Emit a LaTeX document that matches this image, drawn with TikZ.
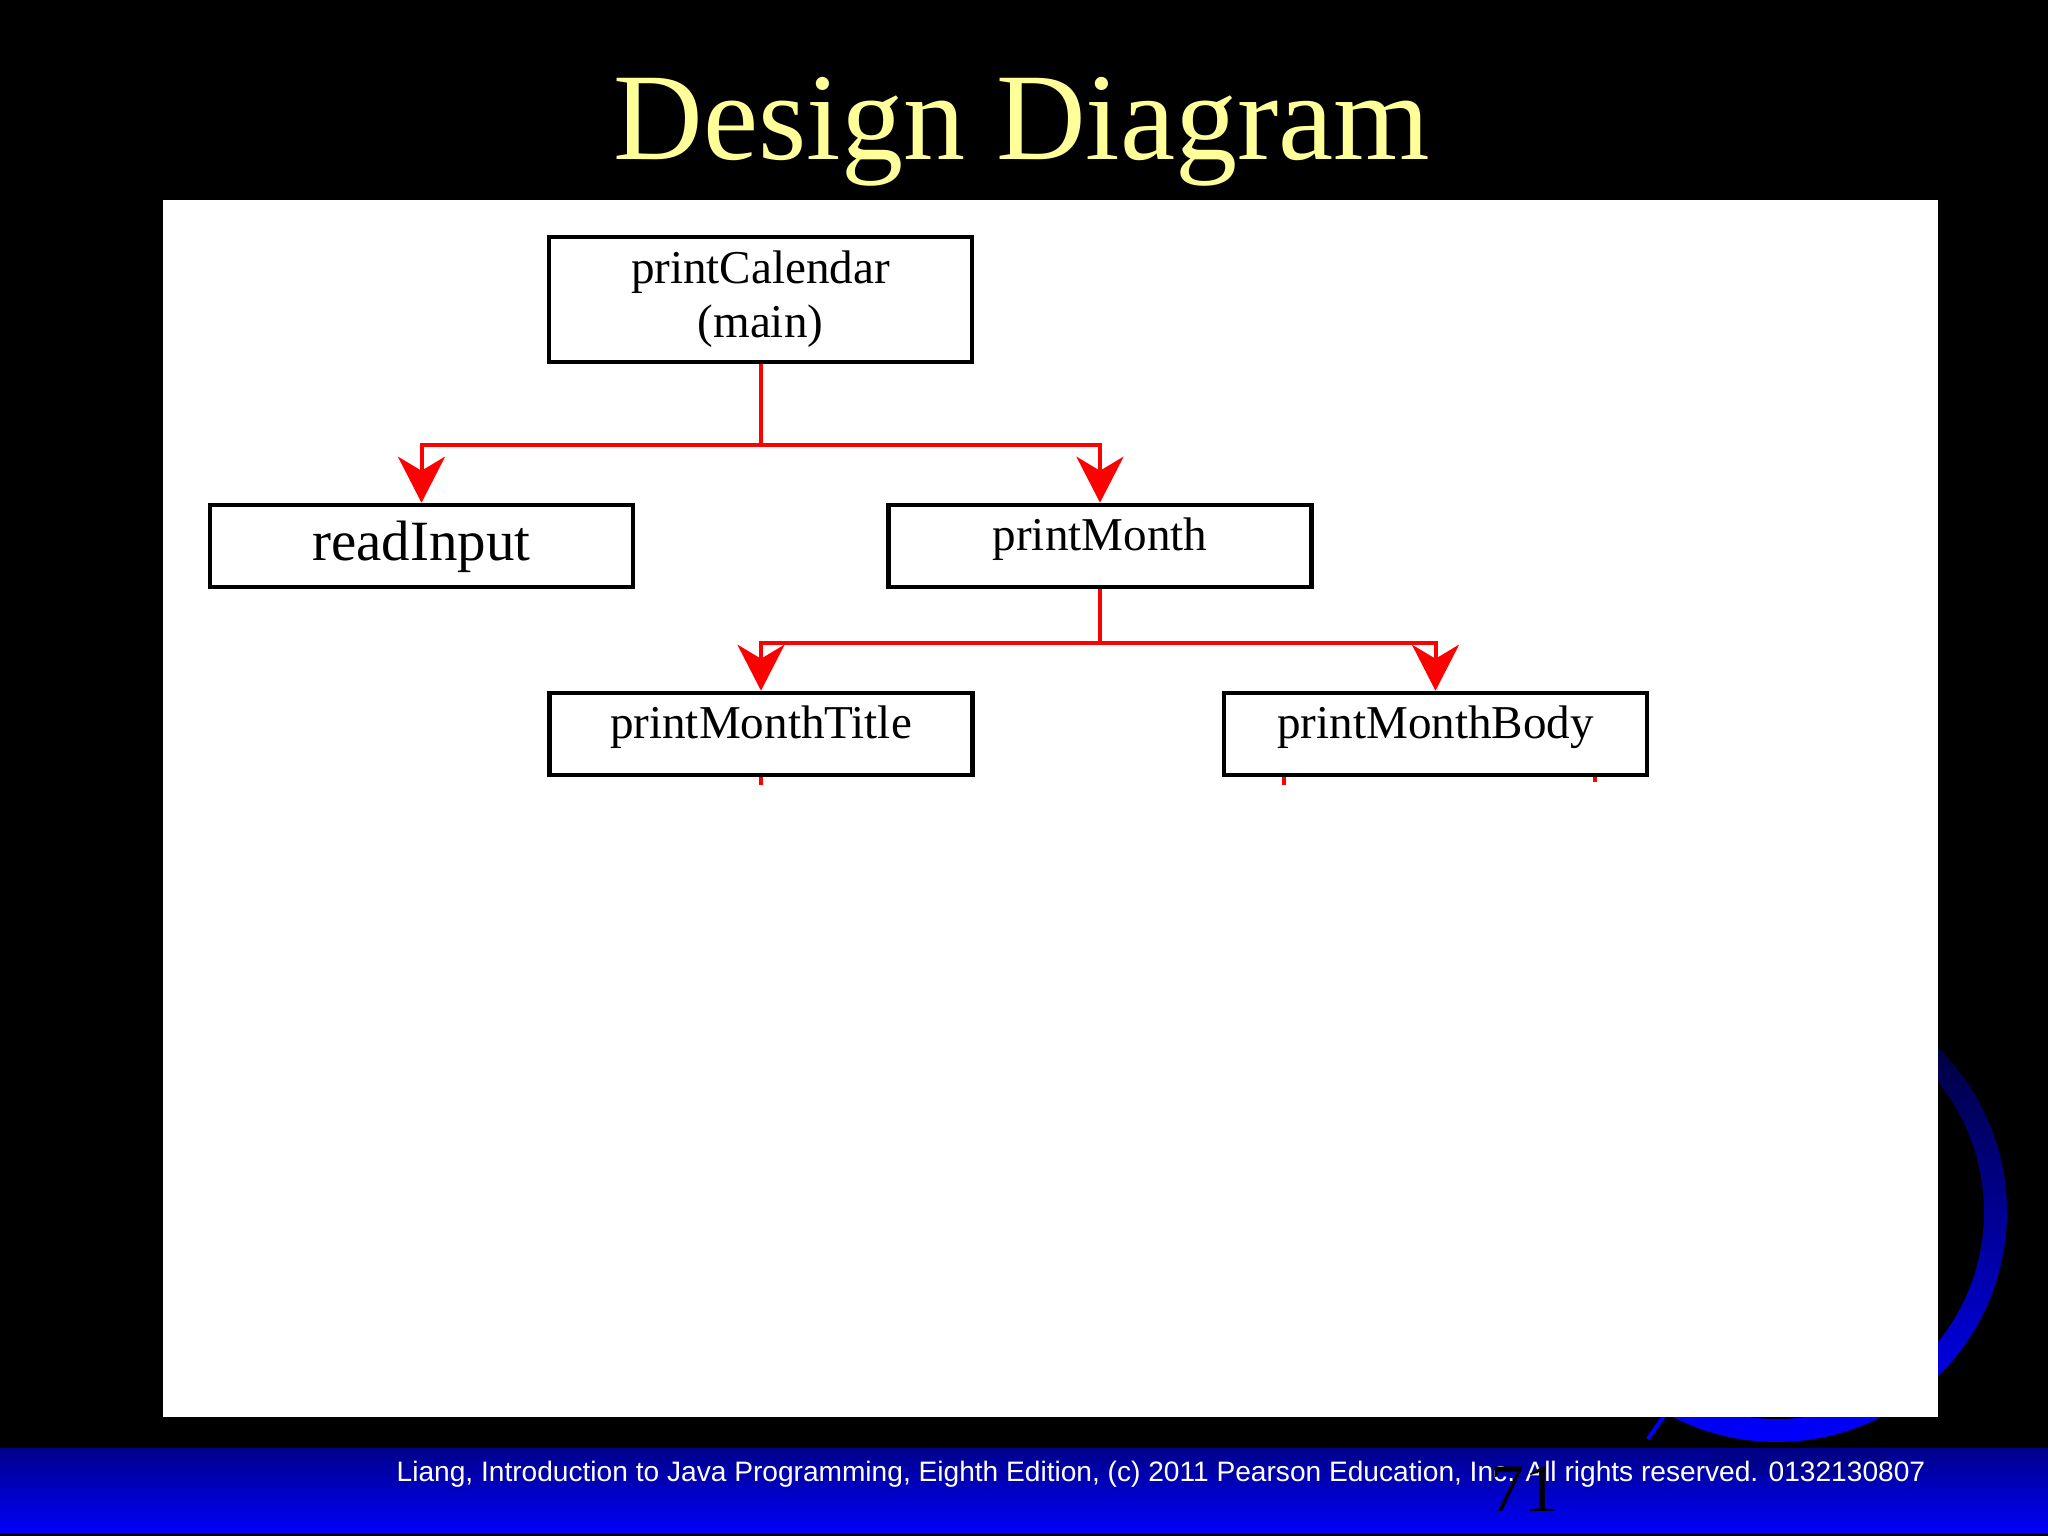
\documentclass[tikz,border=0pt]{standalone}
\usepackage{fontspec}
\setmainfont{Liberation Serif}
\newfontfamily\footfont{Liberation Sans}
\usepackage{xcolor}
\usepackage{tikz}
\usetikzlibrary{arrows.meta,positioning}
\definecolor{titleyellow}{HTML}{FFFF99}
\definecolor{callred}{HTML}{FF0000}
\definecolor{bardark}{HTML}{00008C}
\definecolor{barlight}{HTML}{0000FA}
\definecolor{ringdark}{HTML}{000022}
\definecolor{ringlight}{HTML}{0000FF}
\tikzset{
  method/.style={
    draw=black,
    line width=0.045cm,
    fill=white,
    align=center,
    inner sep=0pt,
    minimum width=4.23cm,
    minimum height=0.82cm,
    text height=0.46cm,
    text depth=0.36cm,
    font=\fontsize{13.4pt}{15.4pt}\selectfont
  },
  mainmethod/.style={minimum height=1.25cm, text height=, text depth=},
  bigmethod/.style={font=\fontsize{16.2pt}{18pt}\selectfont, text height=0.56cm, text depth=0.26cm},
  calledge/.style={line width=0.04cm, draw=callred},
  callarrow/.style={calledge, -{Stealth[length=0.46cm, width=0.47cm, inset=0.14cm]}},
  stub/.style={line width=0.04cm, draw=callred},
  slidetitle/.style={font=\fontsize{35.3pt}{40pt}\selectfont, text=titleyellow, anchor=base, inner sep=0pt},
  footnote/.style={font=\footfont\fontsize{8pt}{9pt}\selectfont, text=white, anchor=base west, inner sep=0pt},
  pagenum/.style={font=\fontsize{19.3pt}{22pt}\selectfont, text=black, anchor=base, inner sep=0pt}
}

\begin{document}
\begin{tikzpicture}[x=1cm,y=1cm]
\useasboundingbox (0,0) rectangle (20.48,15.36);
\fill[black] (0,0) rectangle (20.48,15.36);

\shade[even odd rule, top color=ringdark, bottom color=ringlight] (17.77,3.24) circle (2.30) (17.77,3.24) circle (2.07);
\draw[line width=0.04cm, ringlight] (16.48,0.97) -- (16.75,1.36);
\shade[top color=bardark, bottom color=barlight] (0,0.03) rectangle (20.48,0.87);
\begin{scope}
  \clip (0,0.03) rectangle (20.48,0.87);
  \fill[blue!50!black, opacity=0.55] (17.98,0.74) ellipse (0.95 and 0.15);
\end{scope}
\fill[white] (1.63,1.19) rectangle (19.38,13.36);

\node[slidetitle] (title) at (10.22,13.76) {Design Diagram};
\node[footnote] (credit) at (3.96,0.54) {Liang, Introduction to Java Programming, Eighth Edition, (c) 2011 Pearson Education, Inc. All rights reserved. 0132130807};
\node[pagenum] (page) at (15.24,0.24) {71};

\node[method, mainmethod] (cal) at (7.605,12.365) {printCalendar\\(main)};
\node[method, bigmethod] (read) at (4.215,9.90) {readInput};
\node[method] (month) at (11.00,9.90) {printMonth};
\node[method] (mtitle) at (7.61,8.02) {printMonthTitle};
\node[method] (mbody) at (14.355,8.02) {printMonthBody};

\path (cal.south) ++(0,-0.81) coordinate (fork1);
\path (month.south) ++(0,-0.54) coordinate (fork2);

\draw[calledge] (cal.south) -- (fork1);
\draw[callarrow] (fork1) -| (read.north);
\draw[callarrow] (fork1) -| (month.north);
\draw[calledge] (month.south) -- (fork2);
\draw[callarrow] (fork2) -| (mtitle.north);
\draw[callarrow] (fork2) -| (mbody.north);

\draw[stub] (mtitle.south) -- ++(0,-0.08);
\draw[stub] ([xshift=-1.52cm]mbody.south) -- ++(0,-0.08);
\draw[stub] ([xshift=1.59cm]mbody.south) -- ++(0,-0.05);

\end{tikzpicture}
\end{document}
